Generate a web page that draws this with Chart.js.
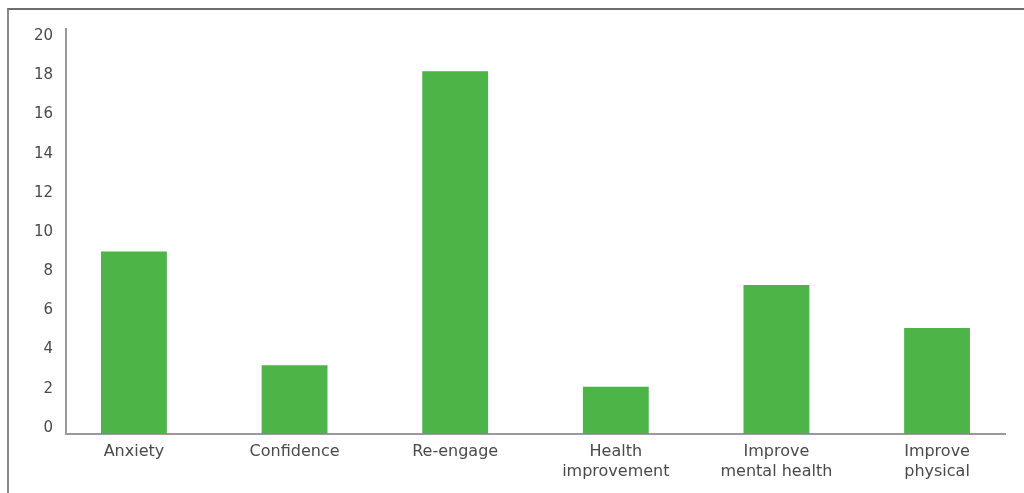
<!DOCTYPE html>
<html>
<head>
<meta charset="utf-8">
<script src="https://cdn.jsdelivr.net/npm/chart.js@4"></script>
<style>
  html, body { margin: 0; padding: 0; background: #fff; }
  #wrap { position: relative; width: 1024px; height: 493px; }
  #frame { position: absolute; left: 7px; top: 8px; width: 1030px; height: 500px;
           border-top: 2px solid #6e6e6e; border-left: 2px solid #8a8a8a; }
  canvas { position: absolute; left: 0; top: 0; }
</style>
</head>
<body>
<div id="wrap">
  <div id="frame"></div>
  <canvas id="myChart" width="1024" height="493"></canvas>
</div>
<script>
// categories and values
var categories = [['Anxiety'], ['Confidence'], ['Re-engage'], ['Health', 'improvement'], ['Improve', 'mental health'], ['Improve', 'physical']];
var values = [9, 3.2, 18.2, 2.1, 7.3, 5.1];
var yTicks = [0, 2, 4, 6, 8, 10, 12, 14, 16, 18, 20];

var green = 'rgb(77, 180, 72)';
var yMin = -0.31;

var ctx = document.getElementById('myChart').getContext('2d');
var chart = new Chart(ctx, {
    type: 'bar',
    data: {
        datasets: [{
            data: values.map(function (v, i) { return { x: i, y: v }; }),
            backgroundColor: green,
            borderWidth: 0,
            base: yMin,
            barPercentage: 0.41,
            categoryPercentage: 1
        }]
    },
    options: {
        responsive: false,
        animation: false,
        layout: { padding: { left: 0, right: 19, top: 29, bottom: 0 } },
        plugins: { legend: { display: false }, tooltip: { enabled: false } },
        scales: {
            x: {
                type: 'linear',
                offset: false,
                min: -0.423,
                max: 5.423,
                grid: { display: false, drawTicks: false },
                border: { display: true, color: '#9a9a9a', width: 2 },
                afterBuildTicks: function (scale) {
                    scale.ticks = categories.map(function (c, i) { return { value: i }; });
                },
                afterFit: function (scale) { scale.height = 59; },
                ticks: {
                    autoSkip: false,
                    maxRotation: 0,
                    padding: 7,
                    color: '#4a4a4a',
                    font: { family: 'DejaVu Sans', size: 16, lineHeight: 1.3 },
                    callback: function (v) { return categories[v]; }
                }
            },
            y: {
                min: yMin,
                max: 20.36,
                grid: { display: false, drawTicks: false },
                border: { display: true, color: '#9a9a9a', width: 2 },
                afterBuildTicks: function (scale) {
                    scale.ticks = yTicks.map(function (v) { return { value: v }; });
                },
                afterFit: function (scale) { scale.width = 66; },
                ticks: {
                    padding: 13,
                    color: '#4a4a4a',
                    font: { family: 'DejaVu Sans', size: 15 }
                }
            }
        }
    }
});
</script>
</body>
</html>
